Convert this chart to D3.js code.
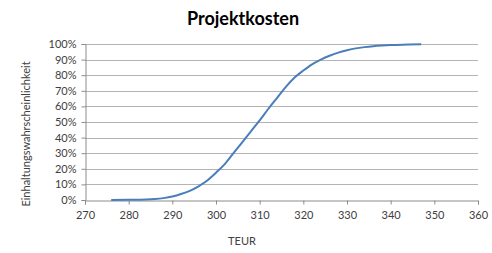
<!DOCTYPE html>
<html>
<head>
<meta charset="utf-8">
<script src="https://cdn.jsdelivr.net/npm/d3@7"></script>
<style>
  body { margin: 0; background: #fff; }
  svg { font-family: "Lato", "Open Sans", sans-serif; }
  .tick text { fill: #404040; font-size: 11px; }
</style>
</head>
<body>
<svg id="chart" width="492" height="253"></svg>
<script>
// Cost values (TEUR) and cumulative probability
const costs = [276, 280, 284, 286, 288, 290, 292, 294, 296, 298, 300, 302, 304, 306, 308,
    310, 312, 314, 316, 318, 320, 322, 324, 326, 328, 330, 332, 334, 336, 338, 340, 344, 347];
const probability = [0, 0.1, 0.3, 0.6, 1.2, 2.2, 3.8, 5.9, 8.8, 12.5, 17.5, 23, 30, 37, 44,
    51, 58.5, 65.5, 72.5, 78.5, 83, 87, 90, 92.5, 94.5, 96, 97.2, 98, 98.6, 99, 99.3, 99.6, 99.8];
const xTicks = [270, 280, 290, 300, 310, 320, 330, 340, 350, 360];
const yTicks = [0, 10, 20, 30, 40, 50, 60, 70, 80, 90, 100];

const svg = d3.select("#chart");
const margin = { left: 85, right: 14, top: 44, bottom: 53 };
const width = 492, height = 253;

const x = d3.scaleLinear().domain([270, 360]).range([margin.left, width - margin.right]);
const y = d3.scaleLinear().domain([0, 100]).range([height - margin.bottom, margin.top]);

// Gridlines
svg.append("g")
    .selectAll("line")
    .data(yTicks.slice(1))
    .enter()
    .append("line")
    .attr("x1", x(270))
    .attr("x2", x(360))
    .attr("y1", d => Math.round(y(d)) + 0.5)
    .attr("y2", d => Math.round(y(d)) + 0.5)
    .attr("stroke", "#b4b4b4")
    .attr("stroke-width", 1);

// Axes
const xAxis = svg.append("g")
    .attr("transform", `translate(0,${Math.round(y(0)) + 0.5})`)
    .call(d3.axisBottom(x).tickValues(xTicks).tickSize(4).tickPadding(5));

const yAxis = svg.append("g")
    .attr("transform", `translate(${Math.round(x(270)) + 0.5},0)`)
    .call(d3.axisLeft(y).tickValues(yTicks).tickSize(4).tickPadding(5).tickFormat(d => d + "%"));

[xAxis, yAxis].forEach(a => {
    a.select(".domain").attr("stroke", "#8c8c8c");
    a.selectAll(".tick line").attr("stroke", "#8c8c8c");
    a.selectAll(".tick text").attr("font-family", "Lato, sans-serif");
});
xAxis.selectAll(".tick text").attr("dy", "0.9em");

// Curve
const points = costs.map((c, i) => [c, probability[i]]);
svg.append("path")
    .datum(points)
    .attr("fill", "none")
    .attr("stroke", "#4a7ebb")
    .attr("stroke-width", 2)
    .attr("d", d3.line().x(d => x(d[0])).y(d => y(d[1])).curve(d3.curveMonotoneX));

// Title
svg.append("text")
    .attr("x", 243)
    .attr("y", 25)
    .attr("text-anchor", "middle")
    .attr("font-size", 18)
    .attr("font-weight", "bold")
    .attr("fill", "#000")
    .text("Projektkosten");

// Axis titles
svg.append("text")
    .attr("x", 242)
    .attr("y", 245)
    .attr("text-anchor", "middle")
    .attr("font-size", 11)
    .attr("fill", "#404040")
    .text("TEUR");

svg.append("text")
    .attr("transform", "translate(30,134) rotate(-90)")
    .attr("text-anchor", "middle")
    .attr("font-size", 11)
    .attr("fill", "#404040")
    .text("Einhaltungswahrscheinlichkeit");
</script>
</body>
</html>
